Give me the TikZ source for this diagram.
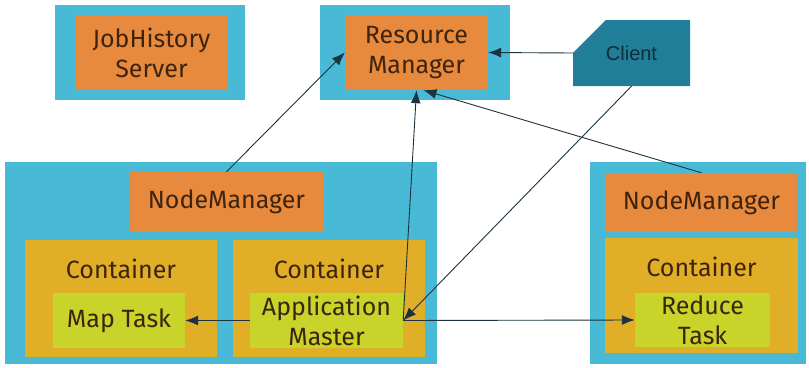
\documentclass[tikz,border=0pt]{standalone}
\usepackage{fontspec}
\setmainfont{Fira Sans}
\newfontfamily\clientfont{Liberation Sans}
\usetikzlibrary{arrows.meta}
\usetikzlibrary{shapes.misc}

\definecolor{hostblue}{RGB}{72,186,214}
\definecolor{daemonorange}{RGB}{232,138,62}
\definecolor{contyellow}{RGB}{225,174,40}
\definecolor{tasklime}{RGB}{200,212,42}
\definecolor{clientblue}{RGB}{32,126,152}
\definecolor{txtbrown}{RGB}{62,36,14}
\definecolor{clienttext}{RGB}{16,44,58}
\definecolor{linedark}{RGB}{28,50,62}
\newcommand\boxfont{\fontsize{25}{30}\selectfont}

\begin{document}
\begin{tikzpicture}[x=1pt,y=-1pt,
    box/.style={rectangle,inner sep=0pt,align=center,text=txtbrown,font=\boxfont},
    host/.style={box,fill=hostblue},
    daemon/.style={box,fill=daemonorange},
    cont/.style={box,fill=contyellow,label={[tag]north:Container}},
    task/.style={box,fill=tasklime},
    tag/.style={anchor=center,yshift=-29pt,text=txtbrown,font=\boxfont},
    msg/.style={draw=linedark,line width=0.9pt,-{Latex[length=13pt,width=10pt]}}]
  \useasboundingbox (0,0) rectangle (809,367);
  %% top row
  \node[host,minimum width=190pt,minimum height=95pt] (jhsbox) at (150,52.5) {};
  \node[daemon,minimum width=153pt,minimum height=75pt] (jhs) at (151.5,52.5) {JobHistory\\Server};
  \node[host,minimum width=190pt,minimum height=95pt] (rmbox) at (415,52.5) {};
  \node[daemon,minimum width=143pt,minimum height=75pt] (rm) at (416.5,52.5) {Resource\\Manager};
  \node[chamfered rectangle,chamfered rectangle corners=north west,
        chamfered rectangle xsep=45pt,chamfered rectangle ysep=30pt,
        fill=clientblue,inner sep=0pt,minimum width=117pt,minimum height=66pt,
        font=\clientfont\fontsize{20}{24}\selectfont,text=clienttext] (client) at (631.5,53) {Client};
  %% left host
  \node[host,minimum width=432pt,minimum height=202pt] (hostL) at (221,263) {};
  \node[daemon,minimum width=193pt,minimum height=60pt] (nmL) at (226.5,202) {NodeManager};
  \node[cont,minimum width=192pt,minimum height=117pt] (contL) at (121,298.5) {};
  \node[task,minimum width=132pt,minimum height=55pt] (map) at (119,320.5) {Map Task};
  \node[cont,minimum width=192pt,minimum height=117pt] (contAM) at (329,298.5) {};
  \node[task,minimum width=153pt,minimum height=55pt] (am) at (326.5,320.5) {Application\\Master};
  %% right host
  \node[host,minimum width=216pt,minimum height=202pt] (hostR) at (698,263) {};
  \node[daemon,minimum width=193pt,minimum height=59pt] (nmR) at (701.5,202.5) {NodeManager};
  \node[cont,minimum width=193pt,minimum height=115pt] (contR) at (701.5,295.5) {};
  \node[task,minimum width=135pt,minimum height=54pt] (red) at (702.5,320) {Reduce\\Task};
  %% messages
  \draw[msg] (nmL.north) -- (rm.west);
  \draw[msg] (am.east) -- (rm.south);
  \draw[msg] (nmR.north) -- ([xshift=7pt]rm.south);
  \draw[msg] (client.west) -- (rm.east);
  \draw[msg] (client.south) -- (am.east);
  \draw[msg] (am.west) -- (map.east);
  \draw[msg] (am.east) -- (red.west);
\end{tikzpicture}
\end{document}
